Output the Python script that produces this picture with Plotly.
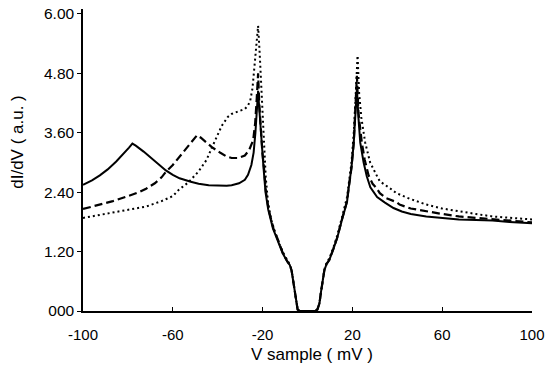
import plotly.graph_objects as go

# ---- data (V sample in mV, dI/dV in a.u.) ----
solid_x = [-100, -96, -92.5, -89, -85.2, -82, -79.5, -78, -76.5, -73, -70.5, -67, -63.1, -60, -57, -52,
           -48.5, -44, -40, -36, -33.8, -30.5, -27.9, -26.5, -25.0, -24.0, -23.2, -22.6, -22.0, -21.5,
           -20.8, -20.2, -19.6, -18.7, -17.5, -15.4, -13, -11.0, -9, -7.9, -7.1, -6.4, -5.7, -5.0, -4.4,
           -3.5, 0, 3.5, 4.4, 5.3, 6.0, 6.6, 7.5, 8.5, 9.7, 11.5, 13.2, 15.4, 17.6, 18.4, 19.6, 20.6,
           21.3, 22.0, 22.7, 23.5, 25.0, 26.4, 28, 29.4, 31, 34.5, 38.3, 42, 46, 52.9, 60, 67.4, 75,
           82.4, 90, 100]
solid_y = [2.55, 2.64, 2.74, 2.86, 3.02, 3.17, 3.30, 3.38, 3.34, 3.22, 3.12, 2.98, 2.84, 2.75, 2.68, 2.61,
           2.57, 2.54, 2.53, 2.53, 2.54, 2.58, 2.65, 2.75, 2.95, 3.2, 3.6, 4.0, 4.45, 4.1,
           3.6, 3.25, 2.9, 2.4, 2.05, 1.67, 1.4, 1.16, 1.0, 0.93, 0.82, 0.6, 0.36, 0.15, 0.03,
           0.0, 0.0, 0.0, 0.03, 0.15, 0.38, 0.55, 0.82, 0.95, 1.03, 1.25, 1.47, 1.85, 2.2, 2.5, 2.9, 3.4,
           3.9, 4.5, 3.9, 3.4, 3.0, 2.72, 2.5, 2.41, 2.3, 2.19, 2.08, 2.01, 1.96, 1.91, 1.88, 1.85, 1.84,
           1.83, 1.80, 1.77]

dashed_x = [-100, -95, -90, -86.7, -80, -75, -71.9, -68, -65, -63.1, -60, -57.3, -54, -51, -49.2, -47.5,
            -45, -42.6, -39, -36, -33.8, -31, -27.9, -26, -24.2, -23.3, -22.6, -22.0, -21.5, -20.8,
            -20.1, -19.4, -18.5, -17.3, -15.2, -13, -11.0, -9, -7.9, -7.1, -6.4, -5.7, -5.0, -4.4,
            -3.5, 0, 3.5, 4.4, 5.3, 6.0, 6.6, 7.5, 8.5, 9.7, 11.5, 13.2, 15.4, 17.6, 18.4, 19.6, 20.6,
            21.3, 22.0, 22.7, 24.2, 25.5, 27.2, 29, 30.8, 32.2, 35, 39.6, 41.0, 46, 52.9, 60, 67.4, 75,
            82.4, 90, 100]
dashed_y = [2.06, 2.12, 2.18, 2.22, 2.32, 2.40, 2.47, 2.58, 2.70, 2.81, 2.95, 3.10, 3.28, 3.45, 3.55, 3.50,
            3.40, 3.31, 3.20, 3.12, 3.09, 3.09, 3.14, 3.25, 3.45, 3.8, 4.3, 4.8, 4.2, 3.6,
            3.2, 2.9, 2.4, 2.05, 1.67, 1.42, 1.17, 1.0, 0.93, 0.82, 0.6, 0.36, 0.15, 0.03,
            0.0, 0.0, 0.0, 0.03, 0.15, 0.38, 0.55, 0.82, 0.95, 1.03, 1.25, 1.48, 1.86, 2.22, 2.5, 2.9, 3.4,
            4.0, 4.75, 4.0, 3.4, 3.05, 2.74, 2.57, 2.48, 2.38, 2.28, 2.2, 2.15, 2.07, 2.01, 1.96, 1.91, 1.88,
            1.85, 1.82, 1.79]

dotted_x = [-100, -95, -86.7, -80, -71.9, -65, -60, -57.3, -53, -48.5, -45, -42.6, -40, -38.2, -35.5,
            -33.8, -31, -27.9, -26.5, -25.5, -24.5, -23.5, -22.7, -22.0, -21.3, -20.6, -19.8, -19.2,
            -18.6, -17.6, -16.2, -14.5, -12.5, -10.5, -9, -7.9, -7.1, -6.4, -5.7, -5.0, -4.4,
            -3.5, 0, 3.5, 4.4, 5.3, 6.0, 6.6, 7.5, 8.5, 9.7, 11.5, 13.2, 15.4, 17.6, 19.6, 20.6,
            21.5, 22.3, 23.0, 24, 25.7, 27.9, 30.8, 32.2, 36.7, 39.6, 45.4, 52.9, 60, 67.4, 75,
            82.4, 90, 100]
dotted_y = [1.88, 1.92, 1.98, 2.03, 2.11, 2.22, 2.32, 2.45, 2.60, 2.82, 3.05, 3.30, 3.55, 3.74, 3.92,
            3.98, 4.03, 4.08, 4.15, 4.25, 4.5, 4.95, 5.4, 5.76, 5.2, 4.6, 3.9, 3.2,
            2.7, 2.2, 1.85, 1.6, 1.35, 1.15, 1.02, 0.94, 0.83, 0.6, 0.36, 0.15, 0.03,
            0.0, 0.0, 0.0, 0.03, 0.15, 0.38, 0.56, 0.84, 0.97, 1.06, 1.28, 1.52, 1.9, 2.3, 3.0, 3.6,
            4.4, 5.16, 4.4, 3.9, 3.4, 3.0, 2.74, 2.62, 2.48, 2.38, 2.27, 2.15, 2.07, 2.01, 1.96,
            1.91, 1.88, 1.85]

x_ticks = [-100, -60, -20, 20, 60, 100]
x_ticklabels = ["-100", "-60", "-20", "20", "60", "100"]
y_ticks = [0, 1.2, 2.4, 3.6, 4.8, 6.0]
y_ticklabels = ["000", "1.20", "2.40", "3.60", "4.80", "6.00"]

FONT = "Arial, Liberation Sans, sans-serif"

fig = go.Figure()
fig.add_trace(go.Scatter(x=dotted_x, y=dotted_y, mode="lines",
                         line=dict(color="black", width=2, dash="2px,3px")))
fig.add_trace(go.Scatter(x=dashed_x, y=dashed_y, mode="lines",
                         line=dict(color="black", width=2.2, dash="8px,4px")))
fig.add_trace(go.Scatter(x=solid_x, y=solid_y, mode="lines",
                         line=dict(color="black", width=2)))

fig.update_layout(
    width=550, height=374,
    margin=dict(l=83, r=13, t=5, b=63),
    paper_bgcolor="white", plot_bgcolor="white",
    showlegend=False,
    font=dict(family=FONT, size=15, color="black"),
    xaxis=dict(range=[-100, 100], tickvals=x_ticks, ticktext=x_ticklabels,
               showgrid=False, zeroline=False, showline=True, linecolor="black", linewidth=1.5,
               ticks="inside", ticklen=4, tickcolor="black", tickwidth=1,
               ticklabeloverflow="allow",
               ticklabelstandoff=9, tickfont=dict(family=FONT, size=15, color="black")),
    yaxis=dict(range=[0, 6.1], tickvals=y_ticks, ticktext=y_ticklabels,
               showgrid=False, zeroline=False, showline=True, linecolor="black", linewidth=1.5,
               ticks="outside", ticklen=4, tickcolor="black", tickwidth=1,
               tickfont=dict(family=FONT, size=15.5, color="black")),
    annotations=[
        dict(text="V sample ( mV )", xref="paper", yref="paper", x=0.511, y=-0.144,
             showarrow=False, xanchor="center", yanchor="middle",
             font=dict(family=FONT, size=17, color="black")),
        dict(text="dI/dV ( a.u. )", xref="paper", yref="paper", x=-0.145, y=0.56,
             showarrow=False, xanchor="center", yanchor="middle", textangle=-90,
             font=dict(family=FONT, size=17, color="black")),
    ],
)

fig.write_html("out.html")
